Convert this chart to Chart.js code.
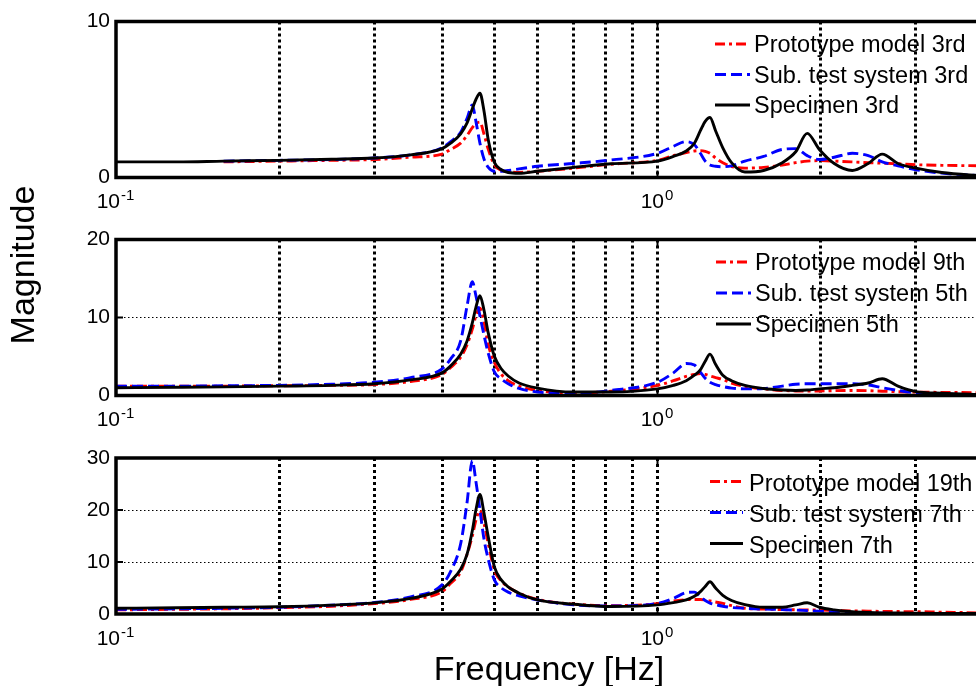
<!DOCTYPE html>
<html>
<head>
<meta charset="utf-8">
<title>Frequency response magnitude</title>
<script src="https://cdn.jsdelivr.net/npm/chart.js@4.4.1/dist/chart.umd.min.js"></script>
<style>
  html, body { margin: 0; padding: 0; background: #fff; overflow: hidden; width: 976px; height: 686px; }
  canvas { position: absolute; left: 0; top: 0; }
  .axis-title {
    position: absolute;
    font-family: "Liberation Sans", Arial, Helvetica, sans-serif;
    font-size: 34px;
    line-height: 34px;
    color: #000;
    text-align: center;
    white-space: nowrap;
  }
  #ylabel { left: -128.3px; top: 248px; width: 300px; height: 34px; transform: rotate(-90deg); }
  #xlabel { left: 349px; top: 651.2px; width: 400px; height: 34px; }
</style>
</head>
<body>
<canvas id="panel1" width="1240" height="686"></canvas>
<canvas id="panel2" width="1240" height="686"></canvas>
<canvas id="panel3" width="1240" height="686"></canvas>
<div id="ylabel" class="axis-title">Magnitude</div>
<div id="xlabel" class="axis-title">Frequency [Hz]</div>
<script>
// frequency points shared by every curve [Hz]
const freqHz = [0.1, 0.13, 0.158, 0.2, 0.25, 0.3, 0.35, 0.4, 0.415, 0.433, 0.445, 0.455, 0.462, 0.47, 0.478, 0.487,
  0.5, 0.515, 0.53, 0.555, 0.6, 0.7, 0.82, 1.0, 1.07, 1.13, 1.17, 1.2, 1.225, 1.25, 1.28, 1.32,
  1.37, 1.45, 1.57, 1.7, 1.8, 1.89, 1.99, 2.12, 2.29, 2.45, 2.6, 2.78, 3.0, 3.35, 4.0];

// top panel - 3rd order
const proto3rd = [null, null, 1.0, 1.05, 1.1, 1.15, 1.3, 1.5, 1.8, 2.2, 2.7, 3.2, 3.45, 3.55, 2.8, 1.8,
  0.8, 0.45, 0.37, 0.33, 0.4, 0.6, 0.85, 1.1, 1.4, 1.6, 1.7, 1.72, 1.68, 1.55, 1.25, 0.95,
  0.7, 0.6, 0.65, 0.8, 0.95, 1.05, 1.08, 1.05, 1.0, 0.95, 0.92, 0.88, 0.82, 0.78, 0.75];
const sub3rd = [null, null, 1.05, 1.1, 1.15, 1.25, 1.45, 1.9, 2.3, 2.9, 3.8, 4.65, 3.6, 2.2, 1.2, 0.65,
  0.4, 0.4, 0.45, 0.55, 0.72, 0.9, 1.12, 1.55, 2.0, 2.3, 2.1, 1.55, 1.05, 0.8, 0.72, 0.69,
  0.75, 1.05, 1.35, 1.8, 1.85, 1.4, 1.15, 1.3, 1.55, 1.4, 1.0, 0.75, 0.5, 0.28, 0.1];
const spec3rd = [1.0, 1.0, 1.05, 1.1, 1.17, 1.25, 1.45, 1.85, 2.2, 2.8, 3.5, 4.4, 5.0, 5.4, 4.3, 2.4,
  0.95, 0.5, 0.32, 0.27, 0.4, 0.65, 0.88, 1.05, 1.35, 1.7, 2.2, 3.0, 3.6, 3.85, 3.0, 1.9,
  0.95, 0.35, 0.45, 0.95, 1.65, 2.83, 1.8, 0.9, 0.45, 0.9, 1.5, 0.9, 0.6, 0.32, 0.1];

// middle panel
const proto9th = [1.2, 1.2, 1.2, 1.25, 1.3, 1.4, 1.8, 2.7, 3.6, 4.9, 6.5, 8.5, 10.2, 11.2, 9.5, 6.5,
  4.2, 2.7, 1.9, 1.2, 0.65, 0.3, 0.55, 1.3, 1.9, 2.45, 2.7, 2.8, 2.7, 2.5, 2.3, 2.05,
  1.6, 1.15, 0.85, 0.65, 0.58, 0.56, 0.58, 0.62, 0.65, 0.62, 0.55, 0.48, 0.43, 0.4, 0.35];
const sub5th = [1.2, 1.2, 1.25, 1.3, 1.45, 1.7, 2.3, 3.4, 4.7, 7.0, 11.5, 14.6, 12.8, 10.2, 7.8, 5.4,
  3.0, 2.1, 1.5, 0.9, 0.45, 0.25, 0.65, 1.7, 2.9, 4.1, 3.9, 3.0, 2.2, 1.7, 1.4, 1.15,
  0.95, 0.85, 0.9, 1.2, 1.45, 1.5, 1.5, 1.5, 1.5, 1.35, 1.0, 0.65, 0.35, 0.2, 0.08];
const spec5th = [1.0, 1.05, 1.1, 1.2, 1.3, 1.5, 2.0, 2.9, 3.8, 5.3, 7.0, 9.3, 11.3, 12.8, 11.0, 8.0,
  5.0, 3.4, 2.5, 1.6, 0.95, 0.45, 0.45, 0.85, 1.3, 1.9, 2.6, 3.3, 4.4, 5.3, 4.0, 2.6,
  1.9, 1.3, 0.9, 0.7, 0.65, 0.7, 0.85, 1.0, 1.3, 1.6, 2.15, 1.2, 0.5, 0.3, 0.12];

// bottom panel
const proto19th = [0.8, 0.9, 1.0, 1.2, 1.5, 2.0, 2.8, 4.3, 5.9, 8.1, 11.5, 15.0, 18.0, 19.9, 17.5, 13.5,
  8.4, 6.3, 5.2, 4.0, 2.8, 1.9, 1.6, 2.0, 2.5, 2.75, 2.8, 2.8, 2.7, 2.5, 2.3, 2.05,
  1.6, 1.1, 0.95, 0.85, 0.8, 0.78, 0.76, 0.7, 0.6, 0.55, 0.5, 0.47, 0.45, 0.35, 0.2];
const sub7th = [0.9, 1.0, 1.1, 1.3, 1.7, 2.2, 3.3, 5.6, 8.2, 13.5, 21.5, 29.5, 25.5, 20.0, 14.5, 10.5,
  6.5, 5.0, 4.2, 3.5, 2.7, 1.75, 1.55, 2.05, 3.0, 4.1, 4.2, 3.3, 2.6, 2.1, 1.8, 1.5,
  1.25, 1.1, 0.95, 0.85, 0.75, 0.65, 0.55, 0.4, 0.25, 0.2, 0.15, 0.12, 0.1, 0.08, 0.05];
const spec7th = [1.1, 1.2, 1.3, 1.4, 1.7, 2.15, 3.0, 4.8, 6.3, 8.6, 11.5, 16.0, 20.0, 23.0, 19.5, 14.8,
  9.0, 6.5, 5.2, 4.0, 2.7, 1.9, 1.45, 1.75, 2.2, 2.7, 3.4, 4.3, 5.3, 6.2, 5.0, 3.6,
  2.6, 1.8, 1.3, 1.3, 1.75, 2.15, 1.3, 0.8, 0.45, 0.3, 0.22, 0.18, 0.15, 0.12, 0.1];

const labels3rd = ['Prototype model 3rd', 'Sub. test system 3rd', 'Specimen 3rd'];
const labels5th = ['Prototype model 9th', 'Sub. test system 5th', 'Specimen 5th'];
const labels7th = ['Prototype model 19th', 'Sub. test system 7th', 'Specimen 7th'];

const yMaxes = [10, 20, 30];

// log grid lines and the decade labels (10^n)
const gridFreqs = [0.1, 0.2, 0.3, 0.4, 0.5, 0.6, 0.7, 0.8, 0.9, 1, 2, 3, 4, 5, 6, 7, 8, 9, 10];
const decadeTicks = [0.1, 1, 10];
const decadeExps = ['-1', '0', '1'];

const FONT = '"Liberation Sans", Arial, Helvetica, sans-serif';

// red dash-dot, blue dashed, black solid
const lineStyles = [
  { color: '#ff0000', dash: [10, 4, 3, 4] },
  { color: '#0000ff', dash: [11, 5] },
  { color: '#000000', dash: [] }
];

function toPoints(vals) {
  return freqHz.map((f, i) => ({ x: f, y: vals[i] }));
}

// box around the axes, small inward ticks and the 10^n labels
const framePlugin = {
  id: 'frame',
  afterDraw(chart) {
    const { ctx, chartArea: a, scales } = chart;
    ctx.save();
    ctx.strokeStyle = '#000';
    ctx.lineWidth = 3.5;
    ctx.strokeRect(a.left, a.top, a.right - a.left, a.bottom - a.top);

    ctx.lineWidth = 2;
    ctx.beginPath();
    decadeTicks.forEach(v => {
      const x = scales.x.getPixelForValue(v);
      ctx.moveTo(x, a.bottom); ctx.lineTo(x, a.bottom - 7);
      ctx.moveTo(x, a.top); ctx.lineTo(x, a.top + 7);
    });
    scales.y.ticks.forEach(t => {
      const y = scales.y.getPixelForValue(t.value);
      ctx.moveTo(a.left, y); ctx.lineTo(a.left + 7, y);
    });
    ctx.stroke();

    ctx.fillStyle = '#000';
    ctx.textAlign = 'left';
    ctx.textBaseline = 'alphabetic';
    decadeTicks.forEach((v, i) => {
      const x = scales.x.getPixelForValue(v);
      ctx.font = '21px ' + FONT;
      const wBase = ctx.measureText('10').width;
      ctx.font = '15px ' + FONT;
      const wExp = ctx.measureText(decadeExps[i]).width;
      const x0 = x - (wBase + wExp) / 2 - 1;
      ctx.font = '21px ' + FONT;
      ctx.fillText('10', x0, a.bottom + 30.5);
      ctx.font = '15px ' + FONT;
      ctx.fillText(decadeExps[i], x0 + wBase + 1, a.bottom + 22.5);
    });
    ctx.restore();
  }
};

// legend drawn inside the plot, no box
const legendPlugin = {
  id: 'panelLegend',
  afterDraw(chart, args, opts) {
    const { ctx, chartArea: a } = chart;
    ctx.save();
    ctx.font = '23.5px ' + FONT;
    ctx.textAlign = 'left';
    ctx.textBaseline = 'alphabetic';
    chart.data.datasets.forEach((ds, i) => {
      const yBase = a.top + opts.rows[i];
      const yLine = yBase - opts.lift;
      ctx.strokeStyle = ds.borderColor;
      ctx.lineWidth = 2.8;
      ctx.setLineDash(ds.borderDash);
      ctx.beginPath();
      ctx.moveTo(opts.x0, yLine);
      ctx.lineTo(opts.x1, yLine);
      ctx.stroke();
      ctx.setLineDash([]);
      ctx.fillStyle = '#000';
      ctx.fillText(ds.label, opts.textX, yBase);
    });
    ctx.restore();
  }
};

function makePanel(id, p) {
  const datasets = p.series.map((vals, i) => ({
    label: p.labels[i],
    data: toPoints(vals),
    borderColor: lineStyles[i].color,
    borderDash: lineStyles[i].dash,
    borderWidth: 2.9,
    pointRadius: 0,
    fill: false,
    cubicInterpolationMode: 'monotone',
    order: 2 - i   // specimen curve on top
  }));

  return new Chart(document.getElementById(id), {
    type: 'line',
    data: { datasets: datasets },
    options: {
      responsive: false,
      animation: false,
      events: [],
      layout: { padding: { top: p.top, left: 0, right: 41, bottom: 0 } },
      plugins: {
        legend: { display: false },
        tooltip: { enabled: false },
        panelLegend: p.legend
      },
      scales: {
        x: {
          type: 'logarithmic',
          min: 0.1,
          max: 10,
          afterBuildTicks: s => { s.ticks = gridFreqs.map(v => ({ value: v })); },
          afterFit: s => { s.height = 686 - p.bottom; },
          ticks: { display: false },
          grid: {
            color: c => (c.tick && (c.tick.value === 0.1 || c.tick.value === 10)) ? 'rgba(0,0,0,0)' : '#000',
            lineWidth: 3,
            drawTicks: false
          },
          border: { display: false, dash: [3, 3] }
        },
        y: {
          min: 0,
          max: p.yMax,
          afterFit: s => { s.width = 116; },
          ticks: { stepSize: 10, color: '#000', padding: 6, font: { family: FONT, size: 21 } },
          grid: {
            color: c => (c.tick && (c.tick.value === 0 || c.tick.value === p.yMax)) ? 'rgba(0,0,0,0)' : '#000',
            lineWidth: 1,
            drawTicks: false
          },
          border: { display: false, dash: [1.5, 2.5] }
        }
      }
    },
    plugins: [framePlugin, legendPlugin]
  });
}

makePanel('panel1', {
  top: 21.5, bottom: 177.5, yMax: yMaxes[0],
  series: [proto3rd, sub3rd, spec3rd], labels: labels3rd,
  legend: { x0: 715, x1: 750, textX: 754, rows: [30.5, 61, 91.5], lift: 8 }
});
makePanel('panel2', {
  top: 239.5, bottom: 395.5, yMax: yMaxes[1],
  series: [proto9th, sub5th, spec5th], labels: labels5th,
  legend: { x0: 716, x1: 751, textX: 755, rows: [30.5, 61.5, 92.5], lift: 8 }
});
makePanel('panel3', {
  top: 458, bottom: 614, yMax: yMaxes[2],
  series: [proto19th, sub7th, spec7th], labels: labels7th,
  legend: { x0: 710, x1: 743, textX: 749, rows: [32.5, 63.5, 94.5], lift: 9 }
});
</script>
</body>
</html>
